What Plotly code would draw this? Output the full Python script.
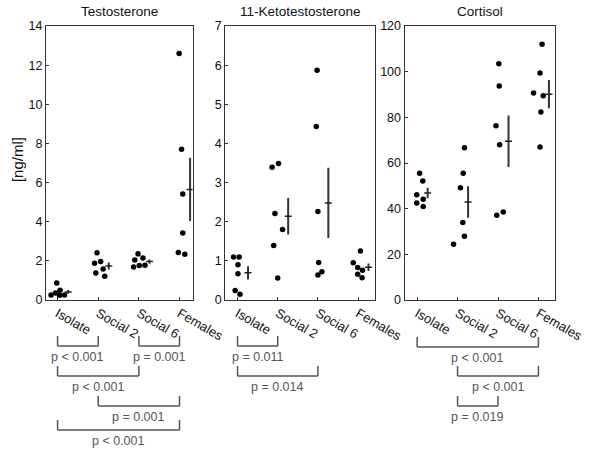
import numpy as np
import plotly.graph_objects as go

# ---- data --------------------------------------------------------------
groups = ["Isolate", "Social 2", "Social 6", "Females"]

titles = ["Testosterone", "11-Ketotestosterone", "Cortisol"]

testosterone = [
    [0.26, 0.87, 0.36, 0.50, 0.24, 0.26],
    [2.41, 1.88, 1.97, 1.38, 1.59, 1.21],
    [2.36, 2.05, 2.14, 1.68, 1.76, 1.78],
    [12.6, 7.7, 5.42, 3.42, 2.43, 2.34],
]
ketotestosterone = [
    [1.10, 1.10, 0.90, 0.67, 0.24, 0.15],
    [3.39, 3.49, 2.21, 1.80, 1.39, 0.56],
    [5.87, 4.43, 2.26, 0.96, 0.72, 0.64],
    [1.25, 0.95, 0.83, 0.76, 0.66, 0.57],
]
cortisol = [
    [55.5, 52.1, 46.1, 44.1, 42.5, 40.9],
    [66.7, 55.5, 49.2, 33.9, 27.9, 24.4],
    [103.5, 93.7, 76.3, 68.0, 37.1, 38.5],
    [112.0, 99.4, 90.7, 89.5, 82.3, 67.0],
]

y_max = [14, 7, 120]
y_dtick = [2, 1, 20]

# pairwise comparisons: (panel, group a, group b, label)
comparisons = [
    (0, 0, 1, "p < 0.001"),
    (0, 2, 3, "p = 0.001"),
    (0, 0, 2, "p < 0.001"),
    (0, 1, 3, "p = 0.001"),
    (0, 0, 3, "p < 0.001"),
    (1, 0, 1, "p = 0.011"),
    (1, 0, 2, "p = 0.014"),
    (2, 0, 3, "p < 0.001"),
    (2, 1, 3, "p < 0.001"),
    (2, 1, 2, "p = 0.019"),
]

# ---- layout helpers (horizontal scatter of the dots, bracket rows) ------
jitter = [
    [[-0.16, -0.02, -0.05, 0.06, 0.05, 0.17],
     [-0.03, -0.09, 0.06, -0.06, 0.12, 0.16],
     [-0.02, -0.10, 0.10, -0.13, 0.01, 0.15],
     [-0.01, 0.05, 0.08, 0.08, -0.03, 0.13]],
    [[-0.10, 0.04, 0.01, 0.01, -0.06, 0.06],
     [-0.14, 0.02, -0.07, 0.12, -0.10, 0.00],
     [-0.02, -0.04, 0.00, 0.02, 0.10, 0.00],
     [0.06, -0.12, -0.01, 0.11, -0.01, 0.10]],
    [[0.06, 0.14, -0.01, 0.15, -0.01, 0.15],
     [0.17, 0.14, 0.07, 0.13, 0.17, -0.10],
     [0.02, 0.03, -0.05, 0.04, -0.03, 0.13],
     [0.09, 0.04, -0.12, 0.12, 0.06, 0.04]],
]
bracket_px = [346, 346, 376, 406, 430, 346, 376, 347, 376, 406]

MEAN_OFFSET = 0.26
FONT = "Liberation Sans, Arial, sans-serif"
INK = "#111"
GREY = "#555"

# figure pixel geometry
W, H = 600, 452
ML, MR, MT, MB = 46, 26, 26, 152
PLOT_W = W - ML - MR
PLOT_H = H - MT - MB
panel_px = [(46, 198), (232, 387), (418, 574)]
x_ranges = [[0.715, 4.32], [0.695, 4.415], [0.69, 4.41]]


def paper_y(py):
    return (H - MB - py) / PLOT_H


fig = go.Figure()
datasets = [testosterone, ketotestosterone, cortisol]

for p, data in enumerate(datasets):
    xa = "x" if p == 0 else f"x{p + 1}"
    ya = "y" if p == 0 else f"y{p + 1}"
    xs, ys = [], []
    for g, vals in enumerate(data):
        xs += [g + 1 + o for o in jitter[p][g]]
        ys += vals
    fig.add_trace(go.Scatter(
        x=xs, y=ys, mode="markers", xaxis=xa, yaxis=ya,
        marker=dict(color="black", size=5.5), showlegend=False, cliponaxis=False,
    ))
    means = [np.mean(v) for v in data]
    ses = [np.std(v, ddof=1) / np.sqrt(len(v)) for v in data]
    fig.add_trace(go.Scatter(
        x=[g + 1 + MEAN_OFFSET for g in range(len(groups))], y=means,
        mode="markers", xaxis=xa, yaxis=ya, showlegend=False,
        marker=dict(symbol="line-ew", size=5, line=dict(color="#222", width=1.5)),
        error_y=dict(type="data", array=ses, visible=True, width=0,
                     thickness=2, color="#333"),
    ))

layout = dict(
    width=W, height=H,
    margin=dict(l=ML, r=MR, t=MT, b=MB),
    plot_bgcolor="white", paper_bgcolor="white",
    font=dict(family=FONT, color=INK, size=12),
    showlegend=False,
)

annotations = []
shapes = []
for p in range(3):
    sx = "" if p == 0 else str(p + 1)
    x0, x1 = panel_px[p]
    dom = [(x0 - ML) / PLOT_W, (x1 - ML) / PLOT_W]
    layout["xaxis" + sx] = dict(
        domain=dom, range=x_ranges[p], anchor="y" + sx,
        tickmode="array", tickvals=[1, 2, 3, 4], ticktext=groups,
        tickangle=30, ticks="inside", ticklen=3, tickcolor="#333",
        tickfont=dict(size=13, family=FONT, color=INK),
        showline=True, linecolor="#333", linewidth=1.2, mirror=True,
        showgrid=False, zeroline=False, fixedrange=True,
    )
    layout["yaxis" + sx] = dict(
        domain=[0, 1], range=[0, y_max[p]], anchor="x" + sx,
        dtick=y_dtick[p], ticks="inside", ticklen=3, tickcolor="#333",
        tickfont=dict(size=12.5, family=FONT, color=INK),
        showline=True, linecolor="#333", linewidth=1.2, mirror=True,
        showgrid=False, zeroline=False, fixedrange=True,
    )
    annotations.append(dict(
        text=titles[p], xref="paper", yref="paper",
        x=(dom[0] + dom[1]) / 2, y=paper_y(12), xanchor="center", yanchor="middle",
        showarrow=False, font=dict(size=13.5, family=FONT, color=INK),
    ))

# y axis title
annotations.append(dict(
    text="[ng/ml]", xref="paper", yref="paper", x=(16 - ML) / PLOT_W,
    y=paper_y(160), textangle=-90, showarrow=False, xanchor="center",
    yanchor="middle", font=dict(size=15, family=FONT, color=INK),
))

# significance brackets
for (p, a, b, label), py in zip(comparisons, bracket_px):
    xr = "x" if p == 0 else f"x{p + 1}"
    line = dict(color=GREY, width=1.5)
    xa, xb = a + 1, b + 1
    shapes.append(dict(type="line", xref=xr, yref="paper", x0=xa, x1=xb,
                       y0=paper_y(py), y1=paper_y(py), line=line))
    for xe in (xa, xb):
        shapes.append(dict(type="line", xref=xr, yref="paper", x0=xe, x1=xe,
                           y0=paper_y(py), y1=paper_y(py - 10), line=line))
    annotations.append(dict(
        text=label, xref=xr, yref="paper", x=(xa + xb) / 2, y=paper_y(py + 11),
        xanchor="center", yanchor="middle", showarrow=False,
        font=dict(size=12.5, family=FONT, color=GREY),
    ))

layout["annotations"] = annotations
layout["shapes"] = shapes
fig.update_layout(**layout)

# the page's default body margin would push the 600x452 figure off its origin
fig.write_html("out.html", config={"displayModeBar": False},
               post_script="document.body.style.margin='0';")
